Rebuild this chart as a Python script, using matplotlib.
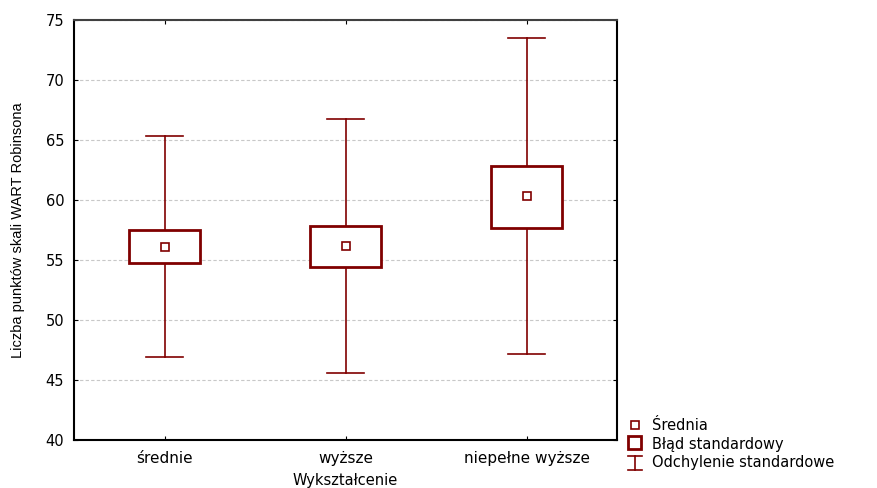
import matplotlib.pyplot as plt
from matplotlib.legend_handler import HandlerBase
from matplotlib.lines import Line2D
from matplotlib.patches import Rectangle

plt.rcParams["font.family"] = ["DejaVu Sans"]

categories = ["średnie", "wyższe", "niepełne wyższe"]
means = [56.1, 56.15, 60.35]
se_low = [54.75, 54.4, 57.7]
se_high = [57.5, 57.85, 62.85]
sd_low = [46.95, 45.55, 47.2]
sd_high = [65.35, 66.75, 73.5]
yticks = [40, 45, 50, 55, 60, 65, 70, 75]

RED = "#800000"


class WhiskerHandler(HandlerBase):
    # "I" shaped icon, sizes in points
    def create_artists(self, legend, orig_handle, xdescent, ydescent, width, height, fontsize, trans):
        cx = width / 2 - xdescent
        cy = height / 2 - ydescent - 0.5
        half_h = 5
        hw = 5
        arts = [
            Line2D([cx, cx], [cy - half_h, cy + half_h], color=RED, lw=1.2),
            Line2D([cx - hw, cx + hw], [cy + half_h, cy + half_h], color=RED, lw=1.2),
            Line2D([cx - hw, cx + hw], [cy - half_h, cy - half_h], color=RED, lw=1.2),
        ]
        for a in arts:
            a.set_transform(trans)
        return arts


class BoxHandler(HandlerBase):
    def create_artists(self, legend, orig_handle, xdescent, ydescent, width, height, fontsize, trans):
        s = 9.5
        cx = width / 2 - xdescent
        cy = height / 2 - ydescent + 0.5
        r = Rectangle((cx - s / 2, cy - s / 2), s, s, facecolor="white",
                      edgecolor=RED, lw=2, transform=trans)
        return [r]


fig = plt.figure(figsize=(8.77, 4.88), dpi=100)
ax = fig.add_axes([74 / 877, 48 / 488, 543 / 877, 420 / 488])

x = list(range(len(categories)))
box_w = 0.39
cap_w = 0.2
for i in x:
    ax.plot([i, i], [sd_low[i], se_low[i]], color=RED, lw=1.2, zorder=2)
    ax.plot([i, i], [se_high[i], sd_high[i]], color=RED, lw=1.2, zorder=2)
    ax.plot([i - cap_w / 2, i + cap_w / 2], [sd_low[i], sd_low[i]], color=RED, lw=1.2, zorder=2)
    ax.plot([i - cap_w / 2, i + cap_w / 2], [sd_high[i], sd_high[i]], color=RED, lw=1.2, zorder=2)
    ax.add_patch(Rectangle((i - box_w / 2, se_low[i]), box_w, se_high[i] - se_low[i],
                           facecolor="white", edgecolor=RED, lw=2, zorder=3))
ax.plot(x, means, linestyle="none", marker="s", markersize=6, markerfacecolor="white",
        markeredgecolor=RED, markeredgewidth=1.2, zorder=4)

ax.set_xlim(-0.5, 2.5)
ax.set_ylim(40, 75)
ax.set_yticks(yticks)
ax.set_xticks(x)
ax.set_xticklabels(categories, fontsize=11)
ax.tick_params(axis="y", labelsize=10.5, direction="in", length=3, pad=7, right=True)
ax.tick_params(axis="x", direction="in", length=3, pad=8, top=True)
ax.yaxis.grid(True, linestyle=(0, (3, 2)), color="#c8c8c8", lw=0.8)
ax.set_axisbelow(True)
for side in ["left", "bottom", "top", "right"]:
    ax.spines[side].set_linewidth(1.5)
ax.spines["top"].set_color("#404040")

ax.set_ylabel("Liczba punktów skali WART Robinsona", fontsize=10.5,
              family=["Liberation Sans", "DejaVu Sans"], labelpad=15)
ax.set_xlabel("Wykształcenie", fontsize=10.5)
ax.xaxis.set_label_coords(0.5, -33 / 420, transform=ax.transAxes)
ax.xaxis.label.set_va("top")

h_mean = Line2D([], [], linestyle="none", marker="s", markersize=6, markerfacecolor="white",
                markeredgecolor=RED, markeredgewidth=1.2)
h_box = Rectangle((0, 0), 1, 1)
h_wh = Line2D([], [])
fig.legend([h_mean, h_box, h_wh], ["Średnia", "Błąd standardowy", "Odchylenie standardowe"],
           handler_map={Rectangle: BoxHandler(), h_wh: WhiskerHandler()},
           loc="upper left", bbox_to_anchor=(626 / 877, 1 - 418 / 488), frameon=False,
           fontsize=10.5, handlelength=1.2, handletextpad=0.55, labelspacing=0.25,
           borderaxespad=0, borderpad=0)

fig.savefig("out.png", dpi=100)
